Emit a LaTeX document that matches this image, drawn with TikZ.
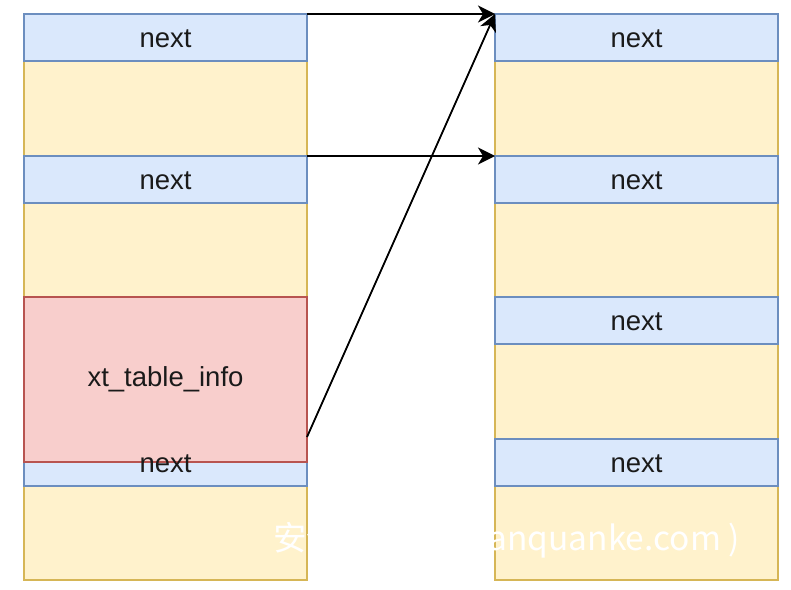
\documentclass[tikz,border=0pt]{standalone}
\usepackage{fontspec}
\setmainfont{Liberation Sans}
\newfontfamily\cjk{Noto Sans CJK SC}
\usetikzlibrary{arrows.meta,calc}
\definecolor{bfill}{HTML}{DAE8FC}
\definecolor{bline}{HTML}{6C8EBF}
\definecolor{yfill}{HTML}{FFF2CC}
\definecolor{yline}{HTML}{D6B656}
\definecolor{rfill}{HTML}{F8CECC}
\definecolor{rline}{HTML}{B85450}
\definecolor{txt}{HTML}{1A1A1A}
\tikzset{
  base/.style={rectangle, anchor=north west, inner sep=0pt, outer sep=0pt, line width=1.4pt,
    minimum width=283pt, font=\fontsize{27.5}{32}\selectfont, text=txt},
  colbox/.style={base, draw=yline, fill=yfill, minimum height=566pt},
  hdrbox/.style={base, draw=bline, fill=bfill, minimum height=47pt, text depth=0pt, text height=19pt},
  infobox/.style={base, draw=rline, fill=rfill, minimum height=165pt},
  lbl/.style={inner sep=0pt, font=\fontsize{27.5}{32}\selectfont, text=txt, text depth=0pt, text height=19pt},
  link/.style={line width=1.8pt, -{Stealth[length=17pt,width=17pt,inset=5pt]}},
  wm/.style={anchor=base west, inner sep=0pt, text=white, font=\cjk\fontsize{33.5}{38}\selectfont}
}
\begin{document}
\begin{tikzpicture}[x=1pt,y=-1pt]
\useasboundingbox (0,0) rectangle (791,589);
% left column
\node[colbox] (colL) at (24,14) {};
\node[hdrbox] (L1) at (24,14) {next};
\node[hdrbox] (L2) at (24,156) {next};
\node[hdrbox] (L3) at (24,439) {};
\node[infobox] (info) at (24,297) {xt\_table\_info};
\node[lbl] (L3t) at (L3.center) {next};
% right column
\node[colbox] (colR) at (495,14) {};
\node[hdrbox] (R1) at (495,14) {next};
\node[hdrbox] (R2) at (495,156) {next};
\node[hdrbox] (R3) at (495,297) {next};
\node[hdrbox] (R4) at (495,439) {next};
% links
\coordinate (dstart) at ($(info.south east)+(0,-25)$);
\draw[link] (L1.north east) -- (R1.north west);
\draw[link] (L2.north east) -- (R2.north west);
\draw[link] (dstart) -- (R1.north west);
% watermark
\node[wm] (mark) at (273,550) {安全客 ( www.anquanke.com )};
\end{tikzpicture}
\end{document}
